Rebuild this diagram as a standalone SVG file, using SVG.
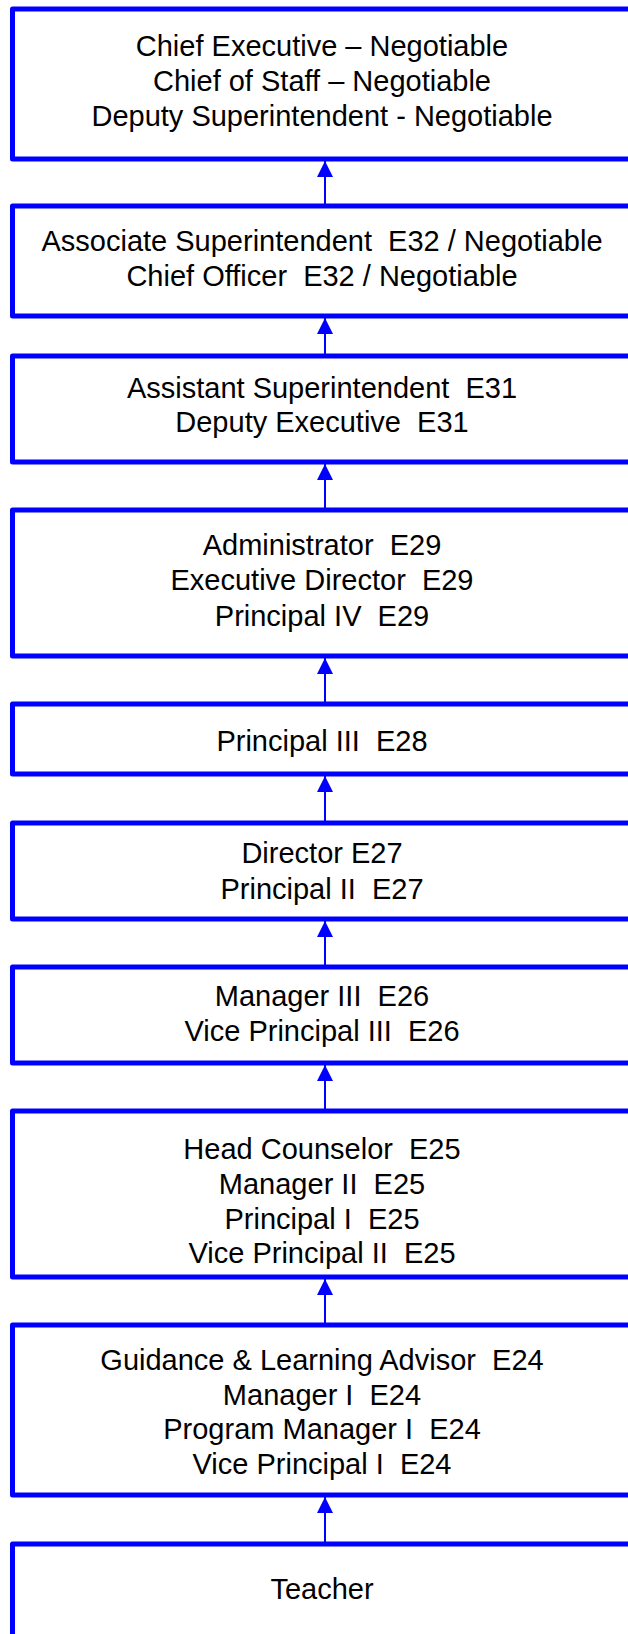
<svg xmlns="http://www.w3.org/2000/svg" width="628" height="1634" viewBox="0 0 628 1634">
<style>
.box{fill:#fff;stroke:#0000ff;stroke-width:5;stroke-linejoin:round}
.t{font-family:"Liberation Sans",Arial,sans-serif;font-size:29px;fill:#000;text-anchor:middle;white-space:pre}
.c{stroke:#0000ff;stroke-width:2;fill:none}
</style>
<defs>
<marker id="ah" viewBox="0 0 16 16" refX="16" refY="8" markerWidth="16" markerHeight="16" markerUnits="userSpaceOnUse" orient="auto">
<path d="M0,0 L16,8 L0,16 Z" fill="#0000ff"/>
</marker>
</defs>
<rect width="628" height="1634" fill="#fff"/>
<g id="connectors">
<line class="c" x1="325" y1="204" x2="325" y2="161" marker-end="url(#ah)"/>
<line class="c" x1="325" y1="354" x2="325" y2="318" marker-end="url(#ah)"/>
<line class="c" x1="325" y1="508" x2="325" y2="464" marker-end="url(#ah)"/>
<line class="c" x1="325" y1="702" x2="325" y2="658" marker-end="url(#ah)"/>
<line class="c" x1="325" y1="821" x2="325" y2="776" marker-end="url(#ah)"/>
<line class="c" x1="325" y1="965" x2="325" y2="921" marker-end="url(#ah)"/>
<line class="c" x1="325" y1="1109" x2="325" y2="1065" marker-end="url(#ah)"/>
<line class="c" x1="325" y1="1323" x2="325" y2="1279" marker-end="url(#ah)"/>
<line class="c" x1="325" y1="1542" x2="325" y2="1497" marker-end="url(#ah)"/>
</g>
<g id="n1"><rect class="box" x="12.5" y="9" width="660" height="150"/>
<text class="t" x="322" y="56">Chief Executive – Negotiable</text>
<text class="t" x="322" y="91">Chief of Staff – Negotiable</text>
<text class="t" x="322" y="126">Deputy Superintendent - Negotiable</text></g>
<g id="n2"><rect class="box" x="12.5" y="206" width="660" height="110"/>
<text class="t" x="322" y="251">Associate Superintendent  E32 / Negotiable</text>
<text class="t" x="322" y="286">Chief Officer  E32 / Negotiable</text></g>
<g id="n3"><rect class="box" x="12.5" y="356" width="660" height="106"/>
<text class="t" x="322" y="398">Assistant Superintendent  E31</text>
<text class="t" x="322" y="432">Deputy Executive  E31</text></g>
<g id="n4"><rect class="box" x="12.5" y="510" width="660" height="146"/>
<text class="t" x="322" y="555">Administrator  E29</text>
<text class="t" x="322" y="590">Executive Director  E29</text>
<text class="t" x="322" y="626">Principal IV  E29</text></g>
<g id="n5"><rect class="box" x="12.5" y="704" width="660" height="70"/>
<text class="t" x="322" y="751">Principal III  E28</text></g>
<g id="n6"><rect class="box" x="12.5" y="823" width="660" height="96"/>
<text class="t" x="322" y="863">Director E27</text>
<text class="t" x="322" y="899">Principal II  E27</text></g>
<g id="n7"><rect class="box" x="12.5" y="967" width="660" height="96"/>
<text class="t" x="322" y="1006">Manager III  E26</text>
<text class="t" x="322" y="1041">Vice Principal III  E26</text></g>
<g id="n8"><rect class="box" x="12.5" y="1111" width="660" height="166"/>
<text class="t" x="322" y="1159">Head Counselor  E25</text>
<text class="t" x="322" y="1194">Manager II  E25</text>
<text class="t" x="322" y="1229">Principal I  E25</text>
<text class="t" x="322" y="1263">Vice Principal II  E25</text></g>
<g id="n9"><rect class="box" x="12.5" y="1325" width="660" height="170"/>
<text class="t" x="322" y="1370">Guidance &amp; Learning Advisor  E24</text>
<text class="t" x="322" y="1405">Manager I  E24</text>
<text class="t" x="322" y="1439">Program Manager I  E24</text>
<text class="t" x="322" y="1474">Vice Principal I  E24</text></g>
<g id="n10"><rect class="box" x="12.5" y="1544" width="660" height="200"/>
<text class="t" x="322" y="1599">Teacher</text></g>
</svg>
